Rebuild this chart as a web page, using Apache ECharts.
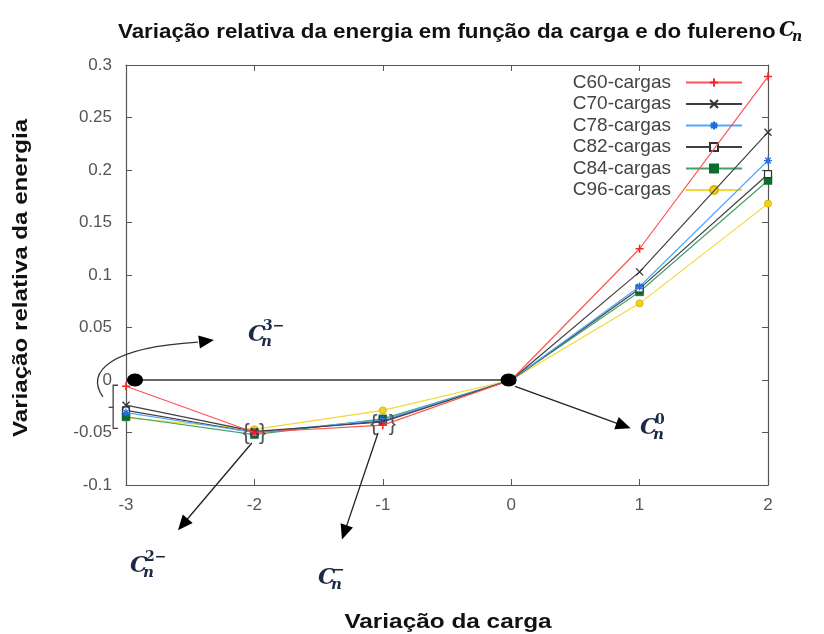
<!DOCTYPE html>
<html>
<head>
<meta charset="utf-8">
<script src="https://cdn.jsdelivr.net/npm/echarts@6/dist/echarts.min.js"></script>
<style>
  html, body { margin: 0; padding: 0; background: #ffffff; }
  #chart { width: 824px; height: 634px; }
</style>
</head>
<body>
<div id="chart"></div>
<script>
// Charge variation on the x axis
const charges = [-3, -2, -1, 0, 1, 2];

// Relative energy variation for each fullerene
const c60 = [-0.006, -0.050, -0.043, 0, 0.125, 0.289];
const c70 = [-0.024, -0.049, -0.040, 0, 0.103, 0.236];
const c78 = [-0.031, -0.050, -0.038, 0, 0.089, 0.209];
const c82 = [-0.029, -0.050, -0.039, 0, 0.087, 0.196];
const c84 = [-0.035, -0.052, -0.037, 0, 0.084, 0.190];
const c96 = [-0.036, -0.047, -0.029, 0, 0.073, 0.168];

const seriesNames = ['C60-cargas', 'C70-cargas', 'C78-cargas', 'C82-cargas', 'C84-cargas', 'C96-cargas'];
const seriesValues = [c60, c70, c78, c82, c84, c96];

// Axis ranges and steps
const xRange = [-3, 2, 1];
const yRange = [-0.1, 0.3, 0.05];

const SANS = '"Liberation Sans", Arial, sans-serif';
const SERIF = '"DejaVu Serif", serif';
const NAVY = '#1c2a48';
const AXIS = '#555555';

// gnuplot-like point types
const SYM_PLUS = 'path://M0,5L10,5M5,0L5,10';
const SYM_CROSS = 'path://M0,0L10,10M0,10L10,0';
const SYM_STAR = 'path://M0,5L10,5M5,0L5,10M1.5,1.5L8.5,8.5M1.5,8.5L8.5,1.5';

const styles = [
  { line: '#ff5252', fill: '#ff2020', border: '#ff2020', symbol: SYM_PLUS, size: 8, bw: 1.5 },
  { line: '#404040', fill: '#333333', border: '#333333', symbol: SYM_CROSS, size: 7, bw: 1.3 },
  { line: '#52a8ff', fill: '#1f6fe0', border: '#1f6fe0', symbol: SYM_STAR, size: 8, bw: 1.3 },
  { line: '#404040', fill: '#ffffff', border: '#333333', symbol: 'rect', size: 7, bw: 1.2 },
  { line: '#44a264', fill: '#0a6e2e', border: '#0a6e2e', symbol: 'rect', size: 8, bw: 0.5 },
  { line: '#f3d83a', fill: '#f1d21e', border: '#d9b800', symbol: 'circle', size: 7, bw: 1 }
];

const series = seriesNames.map((name, i) => ({
  name: name,
  type: 'line',
  data: charges.map((c, k) => [c, seriesValues[i][k]]),
  symbol: styles[i].symbol,
  symbolSize: styles[i].size,
  showAllSymbol: true,
  lineStyle: { color: styles[i].line, width: 1.2 },
  itemStyle: { color: styles[i].fill, borderColor: styles[i].border, borderWidth: styles[i].bw },
  emphasis: { disabled: true },
  animation: false,
  z: 3 + (5 - i)
}));

const baseX = {
  type: 'value', min: xRange[0], max: xRange[1], interval: xRange[2],
  axisLine: { show: true, onZero: false, lineStyle: { color: AXIS, width: 1.2 } },
  axisTick: { show: true, inside: true, length: 6, lineStyle: { color: AXIS } },
  splitLine: { show: false }
};
const baseY = {
  type: 'value', min: yRange[0], max: yRange[1], interval: yRange[2],
  axisLine: { show: true, onZero: false, lineStyle: { color: AXIS, width: 1.2 } },
  axisTick: { show: true, inside: true, length: 6, lineStyle: { color: AXIS } },
  splitLine: { show: false }
};

const chart = echarts.init(document.getElementById('chart'), null, { renderer: 'canvas' });

chart.setOption({
  backgroundColor: '#ffffff',
  animation: false,
  grid: { left: 126, right: 56, top: 65, bottom: 149, containLabel: false },
  xAxis: [
    Object.assign({}, baseX, {
      position: 'bottom',
      axisLabel: { color: AXIS, fontSize: 17, fontFamily: SANS, margin: 12 }
    }),
    Object.assign({}, baseX, { position: 'top', axisLabel: { show: false } })
  ],
  yAxis: [
    Object.assign({}, baseY, {
      position: 'left',
      axisLabel: {
        color: AXIS, fontSize: 17, fontFamily: SANS, margin: 14,
        formatter: v => String(parseFloat(v.toFixed(2)))
      }
    }),
    Object.assign({}, baseY, { position: 'right', axisLabel: { show: false } })
  ],
  legend: {
    orient: 'vertical',
    right: 76,
    top: 68,
    align: 'right',
    itemWidth: 56,
    itemHeight: 10,
    itemGap: 2.5,
    textStyle: { color: '#444444', fontSize: 19, lineHeight: 19, fontFamily: SANS, padding: [0, 10, 0, 0] },
    data: seriesNames
  },
  series: series
});

// ---- annotations, anchored in data units ----
const px = p => chart.convertToPixel({ gridIndex: 0 }, p);

function arrowHead(a, b, len, half) {
  const dx = b[0] - a[0], dy = b[1] - a[1];
  const d = Math.hypot(dx, dy), ux = dx / d, uy = dy / d;
  const bx = b[0] - ux * len, by = b[1] - uy * len;
  return {
    type: 'polygon',
    shape: { points: [[b[0], b[1]], [bx - uy * half, by + ux * half], [bx + uy * half, by - ux * half]] },
    style: { fill: '#000000' }, z: 20
  };
}
function arrow(from, to) {
  const a = px(from), b = px(to);
  const dx = b[0] - a[0], dy = b[1] - a[1], d = Math.hypot(dx, dy);
  const e = [b[0] - dx / d * 10, b[1] - dy / d * 10];
  return [
    { type: 'line', shape: { x1: a[0], y1: a[1], x2: e[0], y2: e[1] }, style: { stroke: '#222222', lineWidth: 1.3 }, z: 20 },
    arrowHead(a, b, 15, 6.5)
  ];
}
function cLabel(at, sup) {
  const p = px(at);
  return [
    { type: 'text', x: p[0], y: p[1], z: 21,
      style: { text: 'C', fontFamily: SERIF, fontStyle: 'italic', fontWeight: 'bold', fontSize: 22, fill: NAVY, align: 'left', verticalAlign: 'middle' } },
    { type: 'text', x: p[0] + 13, y: p[1] + 7, z: 21,
      style: { text: 'n', fontFamily: SERIF, fontStyle: 'italic', fontWeight: 'bold', fontSize: 15, fill: NAVY, align: 'left', verticalAlign: 'middle' } },
    { type: 'text', x: p[0] + 15, y: p[1] - 8, z: 21,
      style: { text: sup, fontFamily: SERIF, fontWeight: 'bold', fontSize: 14, fill: NAVY, align: 'left', verticalAlign: 'middle' } }
  ];
}
function brace(at, ch) {
  const p = px(at);
  return { type: 'text', x: p[0], y: p[1], z: 19,
    style: { text: ch, fontFamily: SANS, fontSize: 22, fill: '#555555', align: 'center', verticalAlign: 'middle' } };
}

const elements = [];

// reference line from the trianion to the neutral cage
const dA = px([-2.93, 0]), dB = px([-0.02, 0]);
elements.push({ type: 'line', shape: { x1: dA[0], y1: dA[1], x2: dB[0], y2: dB[1] }, style: { stroke: '#333333', lineWidth: 1.3 }, z: 18 });
elements.push({ type: 'ellipse', shape: { cx: dA[0], cy: dA[1], rx: 8, ry: 6.5 }, style: { fill: '#000000' }, z: 19 });
elements.push({ type: 'ellipse', shape: { cx: dB[0], cy: dB[1], rx: 8, ry: 6.5 }, style: { fill: '#000000' }, z: 19 });

// curved arrow pointing to C_n^{3-}
const q0 = px([-3.18, -0.016]), q1 = px([-3.32, 0.008]), q2 = px([-3.12, 0.031]), q3 = px([-2.44, 0.036]), qt = px([-2.315, 0.038]);
elements.push({ type: 'bezierCurve', shape: { x1: q0[0], y1: q0[1], cpx1: q1[0], cpy1: q1[1], cpx2: q2[0], cpy2: q2[1], x2: q3[0], y2: q3[1] },
  style: { stroke: '#333333', lineWidth: 1.3, fill: null }, z: 20 });
elements.push(arrowHead(q3, qt, 15, 6.5));

// bracket grouping the points at -3
const b1 = px([-3.1, -0.005]), b2 = px([-3.1, -0.046]), bs = px([-3.062, 0]), bn = px([-3.135, -0.026]);
elements.push({ type: 'polyline', shape: { points: [[bs[0], b1[1]], [b1[0], b1[1]], [b2[0], b2[1]], [bs[0], b2[1]]] },
  style: { stroke: '#444444', lineWidth: 1.3, fill: null }, z: 19 });
elements.push({ type: 'line', shape: { x1: b1[0], y1: bn[1], x2: bn[0], y2: bn[1] }, style: { stroke: '#444444', lineWidth: 1.3 }, z: 19 });

// braces around the -2 and -1 groups
elements.push(brace([-2.065, -0.05], '{'), brace([-1.935, -0.05], '}'));
elements.push(brace([-1.07, -0.042], '{'), brace([-0.925, -0.042], '}'));

// straight arrows
elements.push(...arrow([0.03, -0.006], [0.93, -0.046]));
elements.push(...arrow([-2.02, -0.06], [-2.595, -0.143]));
elements.push(...arrow([-1.037, -0.0505], [-1.318, -0.152]));

// ion labels
elements.push(...cLabel([-2.05, 0.043], '3\u2212'));
elements.push(...cLabel([1.003, -0.0457], '0'));
elements.push(...cLabel([-2.969, -0.177], '2\u2212'));
elements.push(...cLabel([-1.505, -0.189], '\u2212'));

// title, with the C_n symbol in math italics
elements.push({ type: 'text', x: 118, y: 32, z: 30, scaleX: 1.065,
  style: { text: 'Variação relativa da energia em função da carga e do fulereno', fontFamily: SANS, fontWeight: 'bold', fontSize: 21, fill: '#111111', align: 'left', verticalAlign: 'middle' } });
elements.push({ type: 'text', x: 779, y: 31, z: 30,
  style: { text: 'C', fontFamily: SERIF, fontStyle: 'italic', fontWeight: 'bold', fontSize: 20, fill: '#111111', align: 'left', verticalAlign: 'middle' } });
elements.push({ type: 'text', x: 792, y: 37, z: 30,
  style: { text: 'n', fontFamily: SERIF, fontStyle: 'italic', fontWeight: 'bold', fontSize: 14, fill: '#111111', align: 'left', verticalAlign: 'middle' } });

// axis names
elements.push({ type: 'text', x: 21, y: 278, rotation: Math.PI / 2, scaleX: 1.15, z: 30,
  style: { text: 'Variação relativa da energia', fontFamily: SANS, fontWeight: 'bold', fontSize: 21, fill: '#111111', align: 'center', verticalAlign: 'middle' } });
elements.push({ type: 'text', x: 448, y: 622, scaleX: 1.16, z: 30,
  style: { text: 'Variação da carga', fontFamily: SANS, fontWeight: 'bold', fontSize: 21, fill: '#111111', align: 'center', verticalAlign: 'middle' } });

chart.setOption({ graphic: { elements: elements } });
</script>
</body>
</html>
